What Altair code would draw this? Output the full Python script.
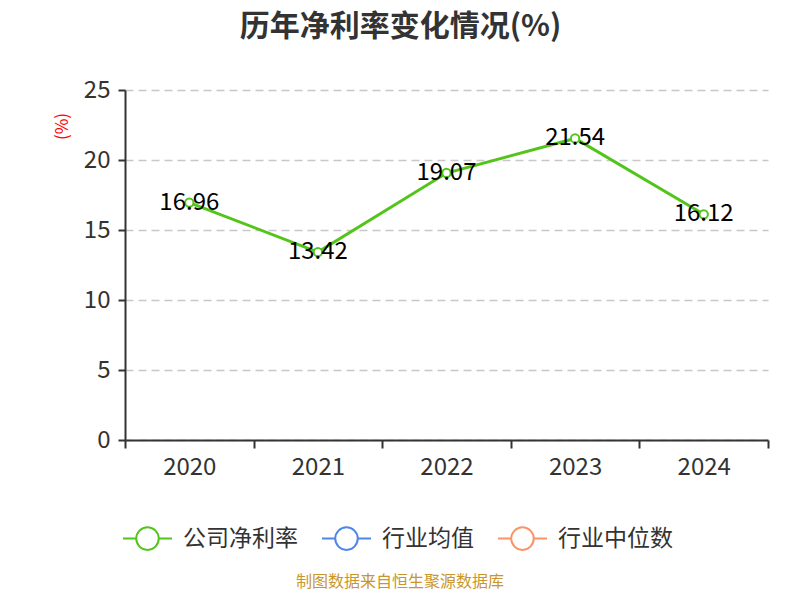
import altair as alt
import pandas as pd

years = ["2020", "2021", "2022", "2023", "2024"]
values = [16.96, 13.42, 19.07, 21.54, 16.12]
series_names = ["公司净利率", "行业均值", "行业中位数"]
series_colors = ["#52c41a", "#4f86ec", "#fb9366"]

df = pd.DataFrame({"year": years, "value": values, "series": series_names[0]})

FONT = "Noto Sans CJK SC"
legend_path = ("M-1,0L-0.46,0M0.46,0L1,0"
               "M-0.46,0A0.46,0.46 0 1,0 0.46,0A0.46,0.46 0 1,0 -0.46,0Z")

color = alt.Color(
    "series:N",
    scale=alt.Scale(domain=series_names, range=series_colors),
    legend=alt.Legend(
        title=None, orient="none", direction="horizontal",
        legendX=-3, legendY=423,
        symbolType=legend_path, symbolSize=2400, symbolStrokeWidth=2,
        symbolFillColor="white", labelFontSize=23, labelColor="#333333",
        labelFont=FONT, labelOffset=10, columnPadding=20,
    ),
)

x = alt.X("year:N", sort=years, title=None,
          scale=alt.Scale(paddingInner=0, paddingOuter=0),
          axis=alt.Axis(labelAngle=0, tickBand="extent", tickSize=8,
                        labelPadding=7, labelFontSize=24, labelColor="#333333",
                        labelFont=FONT, domainColor="#333333", tickColor="#333333",
                        domainWidth=2, tickWidth=2, grid=False))
y = alt.Y("value:Q", title="(%)",
          scale=alt.Scale(domain=[0, 25]),
          axis=alt.Axis(values=[0, 5, 10, 15, 20, 25], tickSize=7, labelPadding=8,
                        labelFontSize=24, labelColor="#333333", labelFont=FONT,
                        domainColor="#333333", tickColor="#333333",
                        domainWidth=2, tickWidth=2,
                        gridDash=[8, 5], gridColor="#c8c8c8", gridWidth=1.5,
                        titleColor="red", titleFontSize=17, titleFont=FONT,
                        titleFontWeight="normal", titleAngle=270,
                        titleX=-63, titleY=36, titleAlign="center",
                        titleBaseline="middle"))

base = alt.Chart(df)
line = base.mark_line(strokeWidth=3).encode(x=x, y=y, color=color)
pts = base.mark_point(filled=True, fill="white", size=70, strokeWidth=2, opacity=1).encode(
    x=x, y=y, stroke=alt.Stroke("series:N", scale=alt.Scale(domain=series_names, range=series_colors), legend=None))
labels = base.mark_text(fontSize=24, font=FONT, color="black", baseline="middle").encode(
    x=x, y=y, text=alt.Text("value:Q", format=".2f"))
footer = alt.Chart(pd.DataFrame({"t": ["制图数据来自恒生聚源数据库"]})).mark_text(
    fontSize=16, font=FONT, color="#c9962b", baseline="middle").encode(
    x=alt.value(275), y=alt.value(492), text="t:N")

chart = alt.layer(line, pts, labels, footer).properties(
    width=643, height=350,
    title=alt.TitleParams("历年净利率变化情况(%)", fontSize=30, font=FONT,
                          fontWeight="bold", color="#333333", dx=-46, offset=36),
    autosize=alt.AutoSizeParams(type="none"),
    padding={"left": 117, "top": 82, "right": 24, "bottom": 152},
).configure_view(stroke=None)

chart.save("out.html", embed_options={"renderer": "svg", "actions": False})
